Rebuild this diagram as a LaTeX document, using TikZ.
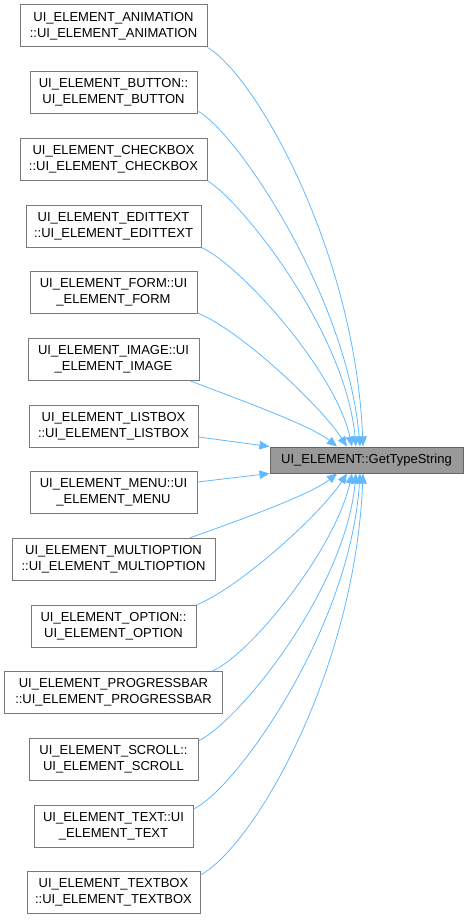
\documentclass[tikz,border=0pt]{standalone}
\usepackage{fontspec}
\setmainfont{Liberation Sans}
\usetikzlibrary{arrows.meta}
\definecolor{edgeblue}{HTML}{63B8FF}
\definecolor{boxborder}{HTML}{7A7A7A}
\definecolor{rootfill}{HTML}{999999}
\definecolor{rootborder}{HTML}{666666}
\tikzset{
  srcbox/.style={draw=boxborder, line width=1pt, fill=white, minimum height=42pt, inner sep=0pt, align=center, font=\fontsize{13pt}{16pt}\selectfont},
  rootbox/.style={draw=rootborder, line width=1pt, fill=rootfill, minimum height=26pt, minimum width=193pt, inner sep=0pt, font=\fontsize{13pt}{16pt}\selectfont},
  calledge/.style={draw=edgeblue, line width=0.8pt, -{Triangle[length=10pt,width=8.5pt]}, fill=none}
}
\begin{document}
\begin{tikzpicture}[x=1pt,y=-1pt]
\useasboundingbox (0,0) rectangle (468,920);
\node[rootbox] (t) at (366.5,460) {UI\_ELEMENT::GetTypeString};
\node[srcbox, minimum width=187pt] (a1) at (113.5,26) {UI\_ELEMENT\_ANIMATION\\::UI\_ELEMENT\_ANIMATION};
\node[srcbox, minimum width=167pt] (a2) at (113.5,92.7) {UI\_ELEMENT\_BUTTON::\\UI\_ELEMENT\_BUTTON};
\node[srcbox, minimum width=187pt] (a3) at (113.5,159.3) {UI\_ELEMENT\_CHECKBOX\\::UI\_ELEMENT\_CHECKBOX};
\node[srcbox, minimum width=175pt] (a4) at (113.5,226) {UI\_ELEMENT\_EDITTEXT\\::UI\_ELEMENT\_EDITTEXT};
\node[srcbox, minimum width=167pt] (a5) at (113.5,292.7) {UI\_ELEMENT\_FORM::UI\\\_ELEMENT\_FORM};
\node[srcbox, minimum width=171pt] (a6) at (113.5,359.3) {UI\_ELEMENT\_IMAGE::UI\\\_ELEMENT\_IMAGE};
\node[srcbox, minimum width=169pt] (a7) at (113.5,426) {UI\_ELEMENT\_LISTBOX\\::UI\_ELEMENT\_LISTBOX};
\node[srcbox, minimum width=167pt] (a8) at (113.5,492.7) {UI\_ELEMENT\_MENU::UI\\\_ELEMENT\_MENU};
\node[srcbox, minimum width=203pt] (a9) at (113.5,559.3) {UI\_ELEMENT\_MULTIOPTION\\::UI\_ELEMENT\_MULTIOPTION};
\node[srcbox, minimum width=165pt] (a10) at (113.5,626) {UI\_ELEMENT\_OPTION::\\UI\_ELEMENT\_OPTION};
\node[srcbox, minimum width=218pt] (a11) at (113.5,692.7) {UI\_ELEMENT\_PROGRESSBAR\\::UI\_ELEMENT\_PROGRESSBAR};
\node[srcbox, minimum width=169pt] (a12) at (113.5,759.3) {UI\_ELEMENT\_SCROLL::\\UI\_ELEMENT\_SCROLL};
\node[srcbox, minimum width=159pt] (a13) at (113.5,826) {UI\_ELEMENT\_TEXT::UI\\\_ELEMENT\_TEXT};
\node[srcbox, minimum width=173pt] (a14) at (113.5,892.7) {UI\_ELEMENT\_TEXTBOX\\::UI\_ELEMENT\_TEXTBOX};
% edges to top side
\draw[calledge] (a1.south east) .. controls (255,75) and (355,250) .. (363,0 |- t.north);
\draw[calledge] (a2.east |- 0,111) .. controls (235,130) and (347,295) .. (360,0 |- t.north);
\draw[calledge] (a3.south east) .. controls (240,200) and (345,330) .. (356,0 |- t.north);
\draw[calledge] (a4.south east) .. controls (240,265) and (335,370) .. (352,0 |- t.north);
\draw[calledge] (a5.east |- 0,313) .. controls (240,330) and (320,405) .. (347,0 |- t.north);
\draw[calledge] (190,0 |- a6.south) .. controls (240,400) and (310,425) .. (337,0 |- t.north);
% straight edges to left side
\draw[calledge] (a7.east |- 0,437) -- (t.north west);
\draw[calledge] (a8.east |- 0,482) -- (t.south west);
% edges to bottom side
\draw[calledge] (190,0 |- a9.north) .. controls (240,520) and (310,495) .. (337,0 |- t.south);
\draw[calledge] (a10.east |- 0,605) .. controls (240,587) and (320,515) .. (347,0 |- t.south);
\draw[calledge] (212,0 |- a11.north) .. controls (250,655) and (335,550) .. (352,0 |- t.south);
\draw[calledge] (a12.east |- 0,741) .. controls (240,720) and (345,590) .. (356,0 |- t.south);
\draw[calledge] (a13.east |- 0,809) .. controls (235,790) and (350,630) .. (360,0 |- t.south);
\draw[calledge] (a14.east |- 0,875) .. controls (255,845) and (355,670) .. (363,0 |- t.south);
\end{tikzpicture}
\end{document}
